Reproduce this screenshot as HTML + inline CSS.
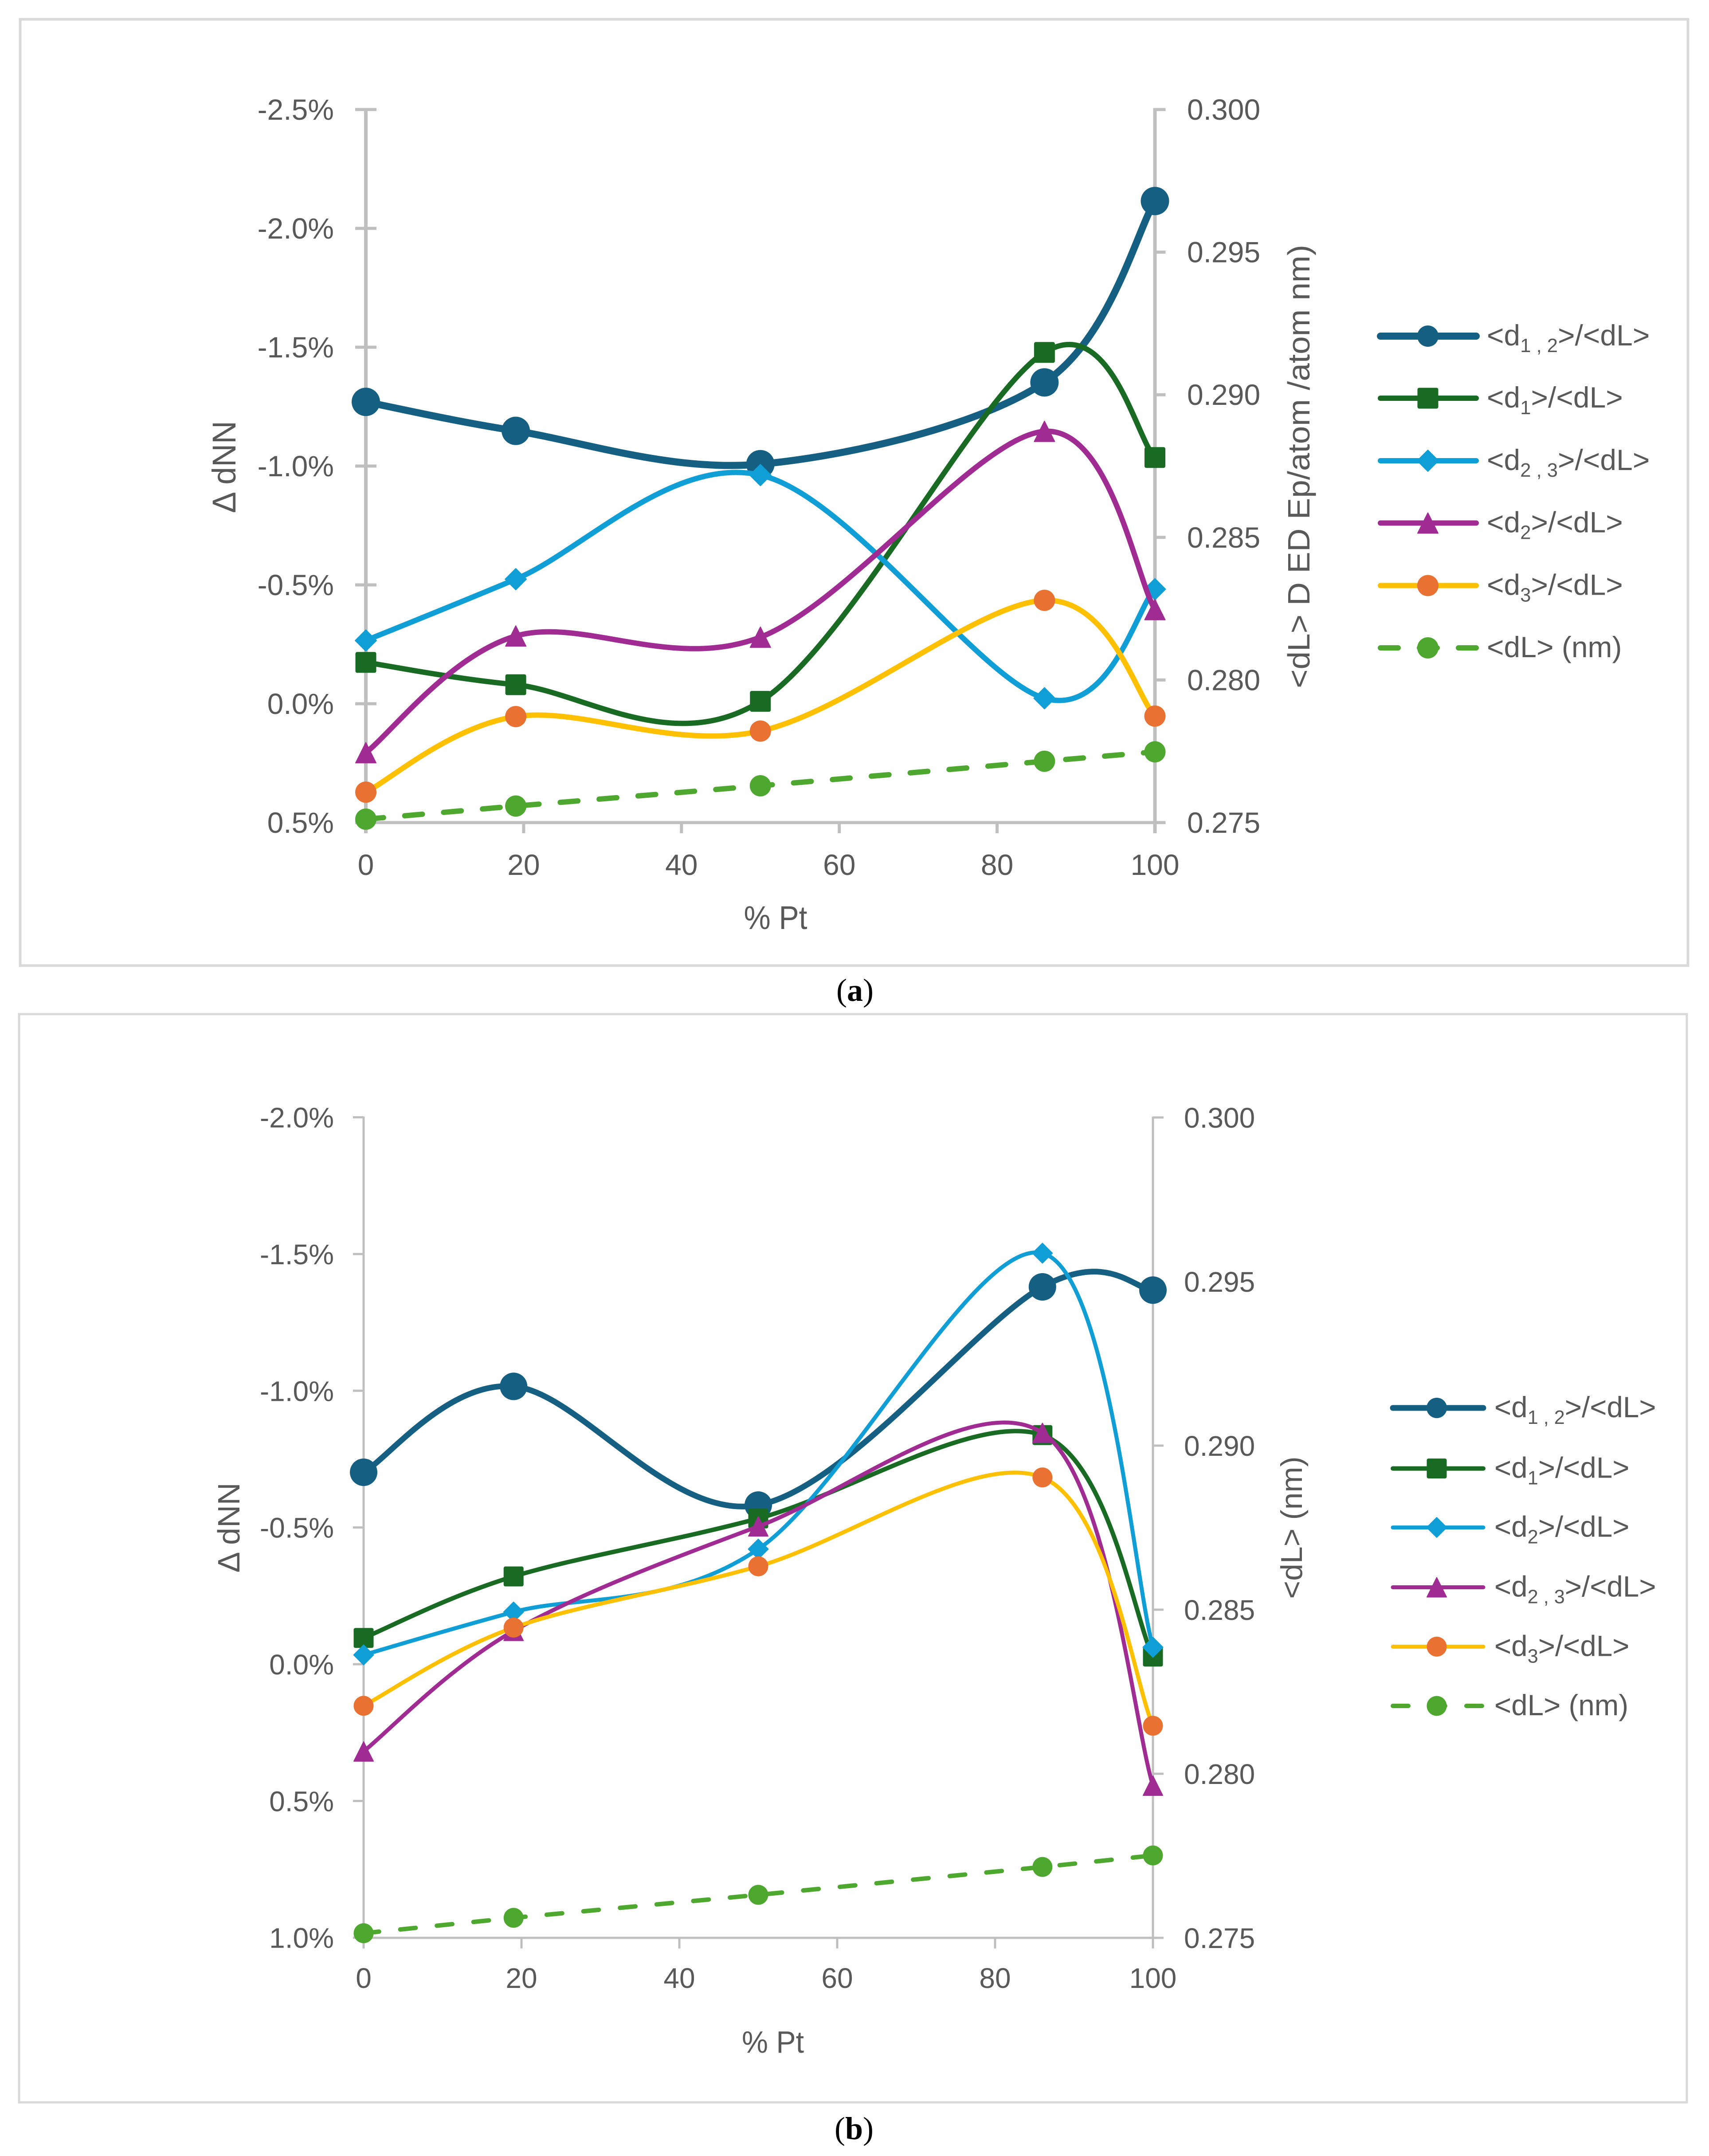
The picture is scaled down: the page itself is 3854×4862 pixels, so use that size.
<!DOCTYPE html>
<html lang="en">
<head>
<meta charset="utf-8">
<title>Delta dNN versus percent Pt</title>
<style>
html,body{margin:0;padding:0;background:#fff;}
svg{display:block;font-family:"Liberation Sans",sans-serif;}
</style>
</head>
<body>
<svg id="figure" xmlns="http://www.w3.org/2000/svg" width="3854" height="4862" viewBox="0 0 3854 4862"></svg>
<script>
// ---- shared category values ----
const percentPt = [0, 19, 50, 86, 100];
const xTicks = [0, 20, 40, 60, 80, 100];

// ---- panel (a) data ----
const aLeftTicks = [-2.5, -2.0, -1.5, -1.0, -0.5, 0.0, 0.5];
const aRightTicks = [0.300, 0.295, 0.290, 0.285, 0.280, 0.275];
const aD12 = [-1.27, -1.148, -1.008, -1.352, -2.115];
const aD1 = [-0.174, -0.08, -0.01, -1.478, -1.036];
const aD23 = [-0.266, -0.524, -0.962, -0.023, -0.482];
const aD2 = [0.206, -0.285, -0.28, -1.146, -0.396];
const aD3 = [0.372, 0.054, 0.115, -0.435, 0.052];
const aDL = [0.27512, 0.27558, 0.27629, 0.27715, 0.27748];

// ---- panel (b) data ----
const bLeftTicks = [-2.0, -1.5, -1.0, -0.5, 0.0, 0.5, 1.0];
const bRightTicks = [0.300, 0.295, 0.290, 0.285, 0.280, 0.275];
const bD12 = [-0.702, -1.016, -0.582, -1.38, -1.368];
const bD1 = [-0.096, -0.321, -0.533, -0.838, -0.028];
const bD2 = [-0.034, -0.191, -0.421, -1.503, -0.062];
const bD23 = [0.319, -0.122, -0.504, -0.846, 0.444];
const bD3 = [0.152, -0.134, -0.358, -0.683, 0.225];
const bDL = [0.27514, 0.27561, 0.27631, 0.27716, 0.27751];

const NS = 'http://www.w3.org/2000/svg';
const svg = document.getElementById('figure');
const TEXT = '#595959', AXIS = '#bfbfbf', FRAME = '#d9d9d9';

function make(parent, tag, attrs, text) {
  const node = document.createElementNS(NS, tag);
  for (const k in attrs) node.setAttribute(k, attrs[k]);
  if (text !== undefined) node.textContent = text;
  parent.appendChild(node);
  return node;
}

function smoothPath(pts) {
  // Catmull-Rom style smoothing as spreadsheet smoothed lines do
  let d = 'M' + pts[0][0].toFixed(1) + ' ' + pts[0][1].toFixed(1);
  for (let i = 0; i < pts.length - 1; i++) {
    const p0 = pts[Math.max(i - 1, 0)], p1 = pts[i], p2 = pts[i + 1], p3 = pts[Math.min(i + 2, pts.length - 1)];
    const c1x = p1[0] + (p2[0] - p0[0]) / 6, c1y = p1[1] + (p2[1] - p0[1]) / 6;
    const c2x = p2[0] - (p3[0] - p1[0]) / 6, c2y = p2[1] - (p3[1] - p1[1]) / 6;
    d += ' C' + c1x.toFixed(1) + ' ' + c1y.toFixed(1) + ' ' + c2x.toFixed(1) + ' ' + c2y.toFixed(1) + ' ' + p2[0].toFixed(1) + ' ' + p2[1].toFixed(1);
  }
  return d;
}

function drawMarker(parent, kind, cx, cy, size, fill) {
  const h = size / 2;
  let node;
  if (kind === 'circle') {
    node = make(parent, 'circle', {cx: cx, cy: cy, r: h, fill: fill});
  } else if (kind === 'square') {
    node = make(parent, 'rect', {x: cx - h, y: cy - h, width: size, height: size, rx: 4, fill: fill});
  } else if (kind === 'diamond') {
    node = make(parent, 'polygon', {points: [cx, cy - h, cx + h, cy, cx, cy + h, cx - h, cy].join(' '), fill: fill, 'stroke-linejoin': 'round', stroke: fill, 'stroke-width': 2});
  } else {
    node = make(parent, 'polygon', {points: [cx, cy - h, cx + h, cy + h, cx - h, cy + h].join(' '), fill: fill, 'stroke-linejoin': 'round', stroke: fill, 'stroke-width': 2});
  }
  return node;
}

function legendText(parent, x, y, parts, size) {
  const t = make(parent, 'text', {x: x, y: y, 'font-size': size, fill: TEXT});
  parts.forEach(function (part, idx) {
    const isSub = part[1] === 1;
    const prevSub = idx > 0 && parts[idx - 1][1] === 1;
    const attrs = {};
    if (isSub) { attrs['font-size'] = size * 0.66; attrs.dy = 15; }
    else if (prevSub) { attrs.dy = -15; }
    make(t, 'tspan', attrs, part[0]);
  });
  return t;
}

function drawChart(c) {
  const g = make(svg, 'g', {});
  
  

  const xOf = function (v) { return c.x0 + (v - 0) / 100 * (c.x100 - c.x0); };
  const yLeft = function (v) { return c.yZero + v * c.pxPerPct; };
  const yRight = function (v) { return c.yBot + (v - 0.275) / 0.025 * (c.yTop - c.yBot); };

  const frame = make(g, 'rect', {x: c.frame[0], y: c.frame[1], width: c.frame[2] - c.frame[0], height: c.frame[3] - c.frame[1], fill: '#fff', stroke: FRAME, 'stroke-width': c.frameW});
  
  

  // left axis
  const leftAxis = make(g, 'g', {stroke: AXIS, 'stroke-width': c.axisW});
  
  
  make(leftAxis, 'line', {x1: c.x0, x2: c.x0, y1: c.yTop - c.axisW * 0.4, y2: c.yBot + c.tickLen});
  c.leftTicks.forEach(function (v) {
    const y = yLeft(v);
    make(leftAxis, 'line', {x1: c.x0 - c.tickLen, x2: c.x0 + c.leftInner, y1: y, y2: y, 'stroke-width': c.tickW});
    const label = make(g, 'text', {x: c.leftLabelRight, y: y + 23, 'text-anchor': 'end', 'font-size': c.font, fill: TEXT}, v.toFixed(1) + '%');
    
    
  });

  // right axis
  const rightAxis = make(g, 'g', {stroke: AXIS, 'stroke-width': c.axisW});
  
  
  make(rightAxis, 'line', {x1: c.x100, x2: c.x100, y1: c.yTop - c.axisW * 0.4, y2: c.yBot + c.tickLen});
  c.rightTicks.forEach(function (v) {
    const y = yRight(v);
    make(rightAxis, 'line', {x1: c.x100, x2: c.x100 + c.tickLen, y1: y, y2: y, 'stroke-width': c.tickW});
    const label = make(g, 'text', {x: c.rightLabelLeft, y: y + 23, 'font-size': c.font, fill: TEXT}, v.toFixed(3));
    
    
  });

  // x axis
  const xAxis = make(g, 'g', {stroke: AXIS, 'stroke-width': c.axisW});
  
  
  make(xAxis, 'line', {x1: c.x0, x2: c.x100 + c.tickLen, y1: c.yBot, y2: c.yBot, 'stroke-width': c.tickW});
  c.xTicks.forEach(function (v) {
    const x = xOf(v);
    make(xAxis, 'line', {x1: x, x2: x, y1: c.yBot, y2: c.yBot + c.tickLen, 'stroke-width': c.tickW});
    const label = make(g, 'text', {x: x, y: c.xLabelY, 'text-anchor': 'middle', 'font-size': c.font, fill: TEXT}, String(v));
    
    
  });

  // titles
  const xTitle = make(g, 'text', {x: c.xTitle[0], y: c.xTitle[1], 'text-anchor': 'middle', 'font-size': c.titleFont, fill: TEXT, textLength: c.xTitle[2], lengthAdjust: 'spacingAndGlyphs'}, '% Pt');
  
  

  const yTitle = make(g, 'text', {x: c.yTitle[0], y: c.yTitle[1], 'text-anchor': 'middle', 'font-size': c.titleFont, fill: TEXT, textLength: c.yTitle[2], lengthAdjust: 'spacingAndGlyphs', transform: 'rotate(-90 ' + c.yTitle[0] + ' ' + c.yTitle[1] + ')'}, '\u0394 dNN');
  
  

  const y2Title = make(g, 'text', {x: c.y2Title[0], y: c.y2Title[1], 'text-anchor': 'middle', 'font-size': c.y2Font, fill: TEXT, textLength: c.y2Title[2], lengthAdjust: 'spacingAndGlyphs', transform: 'rotate(-90 ' + c.y2Title[0] + ' ' + c.y2Title[1] + ')'}, c.y2Text);
  
  

  // series
  c.series.forEach(function (s) {
    const yFn = s.axis === 'right' ? yRight : yLeft;
    const pts = s.values.map(function (v, i) { return [xOf(percentPt[i]), yFn(v)]; });
    const sg = make(g, 'g', {});
    
    
    const attrs = {d: s.dashed ? 'M' + pts.map(function (p) { return p[0].toFixed(1) + ' ' + p[1].toFixed(1); }).join(' L') : smoothPath(pts), fill: 'none', stroke: s.line, 'stroke-width': s.width, 'stroke-linecap': 'round', 'stroke-linejoin': 'round'};
    if (s.dashed) attrs['stroke-dasharray'] = c.dash;
    const path = make(sg, 'path', attrs);
    
    
    pts.forEach(function (p) {
      const m = drawMarker(sg, s.marker, p[0], p[1], s.size, s.fill);
      
      
    });
  });

  // legend
  const lg = make(g, 'g', {});
  
  
  c.legendOrder.forEach(function (s, i) {
    const y = c.legend.ys[i];
    const entry = make(lg, 'g', {});
    
    
    const attrs = {x1: c.legend.x1, x2: c.legend.x2, y1: y, y2: y, stroke: s.line, 'stroke-width': s.width, 'stroke-linecap': 'round'};
    if (s.dashed) attrs['stroke-dasharray'] = c.dash;
    make(entry, 'line', attrs);
    drawMarker(entry, s.marker, c.legend.mx, y, s.legendSize || s.size, s.fill);
    legendText(entry, c.legend.tx, y + 21, s.label, c.legend.font);
  });

  // caption
  const cap = make(g, 'text', {x: c.caption[0], y: c.caption[1], 'font-size': 72, fill: '#000', style: 'font-family:"Liberation Serif",serif'});
  
  
  make(cap, 'tspan', {}, '(');
  make(cap, 'tspan', {'font-weight': 'bold'}, c.caption[2]);
  make(cap, 'tspan', {}, ')');
}

const lblD12 = [['<d', 0], ['1 , 2', 1], ['>/<dL>', 0]];
const lblD1 = [['<d', 0], ['1', 1], ['>/<dL>', 0]];
const lblD2 = [['<d', 0], ['2', 1], ['>/<dL>', 0]];
const lblD23 = [['<d', 0], ['2 , 3', 1], ['>/<dL>', 0]];
const lblD3 = [['<d', 0], ['3', 1], ['>/<dL>', 0]];
const lblDL = [['<dL> (nm)', 0]];

const aSeries = [
  {key: 'd12', values: aD12, line: '#156082', fill: '#156082', width: 16, marker: 'circle', size: 64, legendSize: 48, label: lblD12},
  {key: 'd1', values: aD1, line: '#196b24', fill: '#196b24', width: 12, marker: 'square', size: 47, label: lblD1},
  {key: 'd23', values: aD23, line: '#0f9ed5', fill: '#0f9ed5', width: 12, marker: 'diamond', size: 48, label: lblD23},
  {key: 'd2', values: aD2, line: '#a02b93', fill: '#a02b93', width: 12, marker: 'triangle', size: 46, label: lblD2},
  {key: 'd3', values: aD3, line: '#ffc000', fill: '#e97132', width: 12, marker: 'circle', size: 48, label: lblD3},
  {key: 'dl', values: aDL, axis: 'right', dashed: true, line: '#4ea72e', fill: '#4ea72e', width: 12, marker: 'circle', size: 48, label: lblDL}
];

const bSeries = [
  {key: 'd12', values: bD12, line: '#156082', fill: '#156082', width: 13, marker: 'circle', size: 62, legendSize: 46, label: lblD12},
  {key: 'd1', values: bD1, line: '#196b24', fill: '#196b24', width: 10, marker: 'square', size: 45, label: lblD1},
  {key: 'd2', values: bD2, line: '#0f9ed5', fill: '#0f9ed5', width: 9, marker: 'diamond', size: 45, label: lblD2},
  {key: 'd23', values: bD23, line: '#a02b93', fill: '#a02b93', width: 9, marker: 'triangle', size: 44, label: lblD23},
  {key: 'd3', values: bD3, line: '#ffc000', fill: '#e97132', width: 9, marker: 'circle', size: 45, label: lblD3},
  {key: 'dl', values: bDL, axis: 'right', dashed: true, line: '#4ea72e', fill: '#4ea72e', width: 10, marker: 'circle', size: 45, label: lblDL}
];

drawChart({
  id: 'panel-a', x0: 825, x100: 2604.5, yTop: 247, yBot: 1855, yZero: 1587, pxPerPct: 536,
  frame: [45.5, 43.5, 3806.5, 2177.5], frameW: 6, axisW: 8, tickW: 7, tickLen: 24, leftInner: 24,
  leftTicks: aLeftTicks, rightTicks: aRightTicks, xTicks: xTicks, font: 66, titleFont: 74, y2Font: 70, dash: '40 48',
  leftLabelRight: 753, rightLabelLeft: 2677, xLabelY: 1973,
  xTitle: [1749, 2095, 143], yTitle: [531, 1053, 208], y2Title: [2953, 1052, 1000],
  y2Text: '<dL> D ED Ep/atom /atom nm)',
  series: aSeries, legendOrder: aSeries,
  legend: {x1: 3113, x2: 3329, mx: 3220, tx: 3353, font: 66, ys: [758, 898, 1039, 1179.5, 1320.5, 1461]},
  caption: [1886, 2257, 'a']
});

drawChart({
  id: 'panel-b', x0: 820, x100: 2600, yTop: 2520, yBot: 4370, yZero: 3753, pxPerPct: 616.7,
  frame: [43, 2287, 3804, 4741], frameW: 5, axisW: 5, tickW: 5, tickLen: 24, leftInner: 0,
  leftTicks: bLeftTicks, rightTicks: bRightTicks, xTicks: xTicks, font: 64, titleFont: 70, y2Font: 68, dash: '35 48',
  leftLabelRight: 753, rightLabelLeft: 2670, xLabelY: 4483,
  xTitle: [1743, 4629, 140], yTitle: [540, 3445, 203], y2Title: [2936, 3445, 321],
  y2Text: '<dL> (nm)',
  series: bSeries, legendOrder: bSeries,
  legend: {x1: 3141, x2: 3345, mx: 3240, tx: 3370, font: 65.5, ys: [3175, 3311.6, 3444.6, 3579.5, 3713.4, 3847]},
  caption: [1882, 4824, 'b']
});
</script>
</body>
</html>
